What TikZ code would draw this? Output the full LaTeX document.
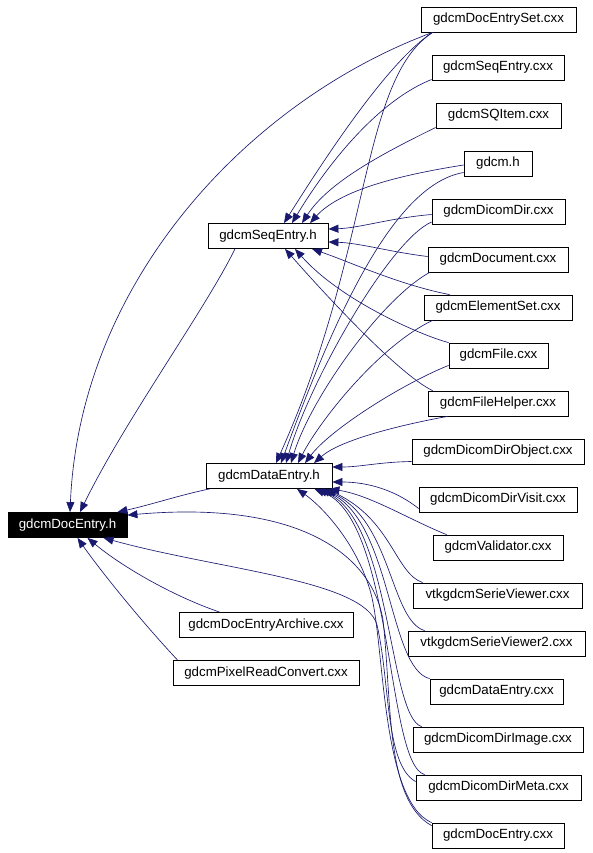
\documentclass[tikz,border=0pt]{standalone}
\usepackage{fontspec}
\setmainfont{Liberation Sans}
\usetikzlibrary{arrows.meta}
\definecolor{navyc}{HTML}{191970}
\tikzset{
  box/.style={draw=black, fill=white, line width=0.8pt, minimum height=25pt, inner sep=0pt, font=\fontsize{13.3}{16}\selectfont},
  hbox/.style={box, fill=black, text=white},
  edge/.style={draw=navyc, line width=0.65pt, -{Triangle[length=10pt,width=8pt]}}
}
\begin{document}
\begin{tikzpicture}[x=1pt,y=-1pt]
\useasboundingbox (0,0) rectangle (592,853);
\fill[white] (0,0) rectangle (592,853);
% right column
\node[box, minimum width=155pt] (ds) at (498.5,19.5) {gdcmDocEntrySet.cxx};
\node[box, minimum width=132pt] (seqcxx) at (498,67.5) {gdcmSeqEntry.cxx};
\node[box, minimum width=125pt] (sqi) at (498.5,115.5) {gdcmSQItem.cxx};
\node[box, minimum width=68pt] (gdcmh) at (498,163.5) {gdcm.h};
\node[box, minimum width=133pt] (ddir) at (498.5,211.5) {gdcmDicomDir.cxx};
\node[box, minimum width=140pt] (doc) at (498,259.5) {gdcmDocument.cxx};
\node[box, minimum width=148pt] (eset) at (498,307.5) {gdcmElementSet.cxx};
\node[box, minimum width=99pt] (file) at (498.5,355.5) {gdcmFile.cxx};
\node[box, minimum width=140pt] (fh) at (498,403.5) {gdcmFileHelper.cxx};
\node[box, minimum width=172pt] (ddo) at (498,451.5) {gdcmDicomDirObject.cxx};
\node[box, minimum width=158pt] (ddv) at (498,499.5) {gdcmDicomDirVisit.cxx};
\node[box, minimum width=130pt] (val) at (498,547.5) {gdcmValidator.cxx};
\node[box, minimum width=169pt] (vsv) at (497.5,595.5) {vtkgdcmSerieViewer.cxx};
\node[box, minimum width=177pt] (vsv2) at (496.5,643.5) {vtkgdcmSerieViewer2.cxx};
\node[box, minimum width=133pt] (dec) at (496.5,691.5) {gdcmDataEntry.cxx};
\node[box, minimum width=170pt] (ddi) at (498,739.5) {gdcmDicomDirImage.cxx};
\node[box, minimum width=165pt] (ddm) at (498.5,787.5) {gdcmDicomDirMeta.cxx};
\node[box, minimum width=132pt] (dec2) at (498,835.5) {gdcmDocEntry.cxx};
% middle column
\node[box, minimum width=120pt] (seqh) at (268,236) {gdcmSeqEntry.h};
\node[box, minimum width=126pt] (dh) at (269,476) {gdcmDataEntry.h};
\node[box, minimum width=174pt] (dea) at (266,625) {gdcmDocEntryArchive.cxx};
\node[box, minimum width=186pt] (prc) at (266,673) {gdcmPixelReadConvert.cxx};
% left
\node[hbox, minimum width=119pt] (de) at (67.5,525) {gdcmDocEntry.h};

% edges to gdcmSeqEntry.h
\draw[edge] ([xshift=12pt]ds.south west) .. controls (390,60) and (330,150) .. ([xshift=16pt]seqh.north);
\draw[edge] ([yshift=-12pt]seqcxx.west) .. controls (380,100) and (330,160) .. ([xshift=24pt]seqh.north);
\draw[edge] ([yshift=-12pt]sqi.west) .. controls (390,150) and (330,180) .. ([xshift=34pt]seqh.north);
\draw[edge] ([yshift=-1.5pt]gdcmh.west) .. controls (400,175) and (340,190) .. ([xshift=42pt]seqh.north);
\draw[edge] ([yshift=-3pt]ddir.west) .. controls (390,218) and (360,228) .. ([yshift=7pt]seqh.east);
\draw[edge] ([yshift=3pt]doc.west) .. controls (390,252) and (360,243) .. ([yshift=-6pt]seqh.east);
\draw[edge] ([xshift=26pt]eset.north west) .. controls (400,285) and (350,262) .. ([xshift=44pt]seqh.south);
\draw[edge] (file.north west) .. controls (420,335) and (340,300) .. ([xshift=27pt]seqh.south);
\draw[edge] ([xshift=5pt]fh.north west) .. controls (400,375) and (330,300) .. ([xshift=17pt]seqh.south);

% edges to gdcmDataEntry.h (top)
\draw[edge] ([xshift=12pt]ds.south west) .. controls (360,80) and (372,250) .. ([xshift=7pt]dh.north);
\draw[edge] ([yshift=-9pt]gdcmh.west) .. controls (390,185) and (330,330) .. ([xshift=12pt]dh.north);
\draw[edge] ([yshift=-10.5pt]ddir.west) .. controls (390,240) and (310,380) .. ([xshift=17pt]dh.north);
\draw[edge] ([xshift=2pt]doc.south west) .. controls (380,300) and (310,400) .. ([xshift=22pt]dh.north);
\draw[edge] ([xshift=9pt]eset.south west) .. controls (380,345) and (320,420) .. ([xshift=29pt]dh.north);
\draw[edge] ([yshift=3pt]file.south west) .. controls (400,385) and (330,430) .. ([xshift=36pt]dh.north);
\draw[edge] ([xshift=20pt]fh.south west) .. controls (400,425) and (340,440) .. ([xshift=45pt]dh.north);
% right side
\draw[edge] ([yshift=-10pt]ddo.west) .. controls (380,462) and (360,467) .. ([yshift=9pt]dh.east);
\draw[edge] ([yshift=-9pt]ddv.west) .. controls (390,486) and (360,482) .. ([yshift=-6pt]dh.east);
\draw[edge] ([xshift=14pt]val.north west) .. controls (410,520) and (370,495) .. ([xshift=-3pt]dh.south east);
% bottom bundle
\draw[edge] ([xshift=10pt]vsv.north west) .. controls (395,573) and (392,520) .. ([xshift=-6pt]dh.south east);
\draw[edge] ([xshift=17pt]vsv2.north west) .. controls (390,620) and (392,520) .. ([xshift=-9pt]dh.south east);
\draw[edge] (dec.north west) .. controls (388,668) and (392,520) .. ([xshift=-12pt]dh.south east);
\draw[edge] ([xshift=9pt]ddi.north west) .. controls (388,716) and (392,520) .. ([xshift=-15pt]dh.south east);
\draw[edge] ([xshift=9pt]ddm.north west) .. controls (386,764) and (394,520) .. ([xshift=-18pt]dh.south east);
\draw[edge] (dec2.north west) .. controls (380,800) and (385,640) .. (370,590) .. controls (355,540) and (320,505) .. ([xshift=28pt]dh.south);

% edges to gdcmDocEntry.h
\draw[edge] ([xshift=12pt]ds.south west) .. controls (250,100) and (80,280) .. ([xshift=2.5pt]de.north);
\draw[edge] ([xshift=-33pt]seqh.south) .. controls (205,310) and (125,420) .. ([xshift=12.5pt]de.north);
\draw[edge] ([xshift=4pt]dh.south west) .. controls (180,495) and (150,505) .. ([xshift=-10pt]de.north east);
\draw[edge] ([yshift=-3pt]dec2.north west) .. controls (385,800) and (392,700) .. (383,620) .. controls (372,555) and (300,500) .. ([yshift=-3pt]de.north east);
\draw[edge] ([yshift=6pt]ddm.west) .. controls (385,765) and (390,680) .. (377,625) .. controls (365,580) and (220,570) .. ([xshift=36pt]de.south);
\draw[edge] ([xshift=41pt]dea.north west) .. controls (170,595) and (120,565) .. ([xshift=20pt]de.south);
\draw[edge] ([xshift=5pt]prc.north west) .. controls (140,620) and (100,570) .. ([xshift=10pt]de.south);
\end{tikzpicture}
\end{document}
